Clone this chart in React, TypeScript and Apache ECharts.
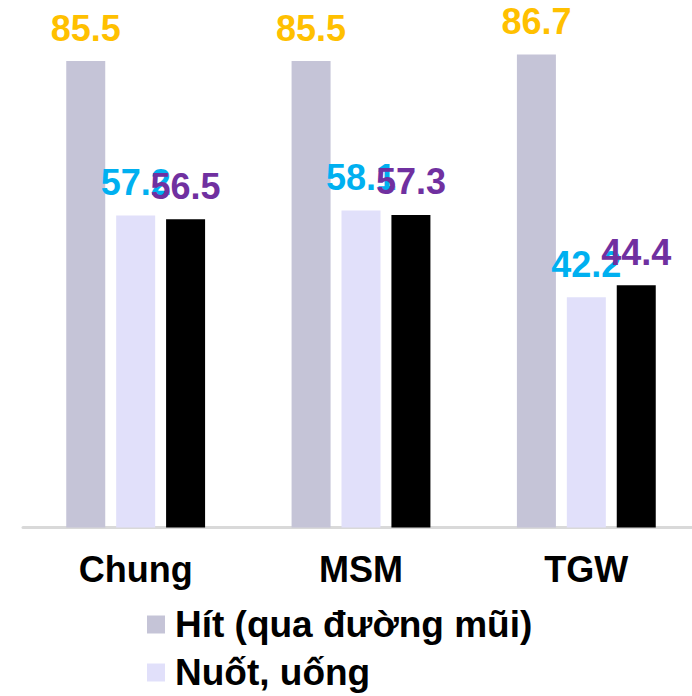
import React, { useEffect, useRef } from "react";
import * as echarts from "echarts";

const categories = ["Chung", "MSM", "TGW"];
const seriesNames = ["Hít (qua đường mũi)", "Nuốt, uống", "Tiêm chích"];
const hitValues = [85.5, 85.5, 86.7];
const nuotValues = [57.2, 58.1, 42.2];
const thirdValues = [56.5, 57.3, 44.4];

const barColors = ["#C5C4D7", "#E1E0FA", "#000000"];
const labelColors = ["#FFC000", "#00B0F0", "#7030A0"];

const FONT = "'Liberation Sans', Arial, Helvetica, sans-serif";

export default function App() {
  const ref = useRef<HTMLDivElement>(null);
  useEffect(() => {
    document.body.style.margin = "0";
    document.body.style.overflow = "hidden";
    if (!ref.current) return;
    const chart = echarts.init(ref.current, null, { renderer: "svg" });
    const dataSets = [hitValues, nuotValues, thirdValues];
    chart.setOption({
      animation: false,
      grid: { left: 23, width: 676, top: 36.5, bottom: 168.5 },
      legend: {
        orient: "vertical",
        left: 147,
        top: 606,
        height: 200,
        padding: 0,
        itemWidth: 18,
        itemHeight: 18,
        itemGap: 11,
        icon: "rect",
        data: seriesNames,
        textStyle: {
          fontFamily: FONT,
          fontWeight: "bold",
          fontSize: 37,
          lineHeight: 37,
          color: "#000",
          padding: [0, 0, 0, 5],
        },
      },
      xAxis: {
        type: "category",
        data: categories,
        axisLine: { lineStyle: { color: "#D9D9D9", width: 3 } },
        axisTick: { show: false },
        axisLabel: {
          margin: 24,
          fontFamily: FONT,
          fontWeight: "bold",
          fontSize: 36,
          color: "#000",
        },
      },
      yAxis: {
        type: "value",
        min: 0,
        max: 90,
        show: false,
        splitLine: { show: false },
      },
      series: seriesNames.map((name, i) => ({
        name,
        type: "bar",
        data: dataSets[i],
        barWidth: 39,
        barGap: "28%",
        itemStyle: { color: barColors[i] },
        label: {
          show: true,
          position: "top",
          distance: 15,
          fontFamily: FONT,
          fontWeight: "bold",
          fontSize: 36,
          color: labelColors[i],
        },
      })),
    });
    return () => chart.dispose();
  }, []);
  return <div ref={ref} style={{ width: 700, height: 696 }} />;
}
